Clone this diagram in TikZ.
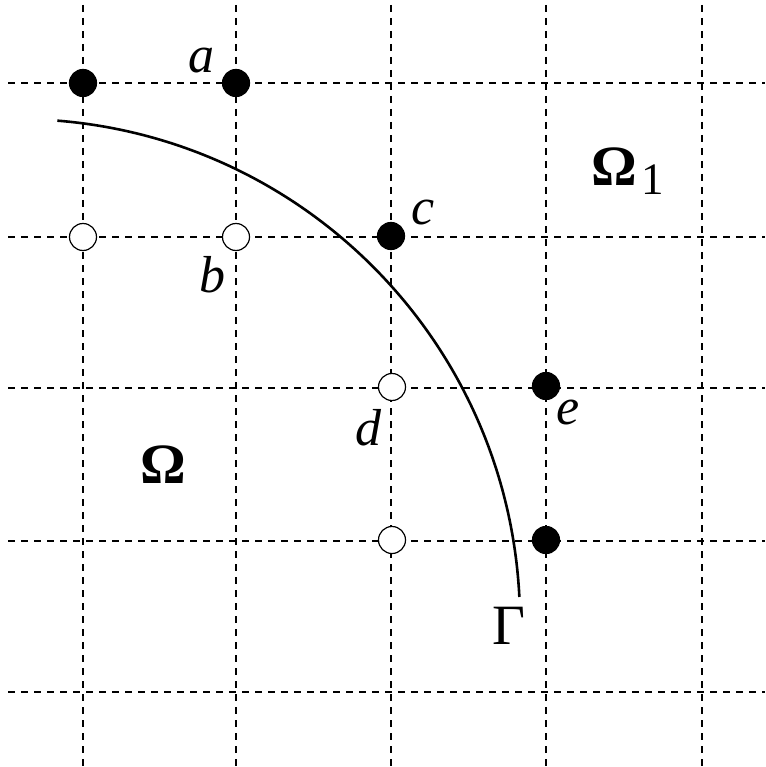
\documentclass[tikz,border=0pt]{standalone}
\usepackage{fontspec}
\setmainfont{Liberation Serif}
\begin{document}
\begin{tikzpicture}[x=1pt,y=-1pt,
  gridline/.style={line width=1.3pt, dash pattern=on 7pt off 6pt},
  fdot/.style={circle, fill=black, draw=black, line width=1.2pt, minimum size=27pt, inner sep=0pt},
  odot/.style={circle, fill=white, draw=black, line width=1.2pt, minimum size=27pt, inner sep=0pt},
  lbl/.style={inner sep=0pt, font=\fontsize{52}{52}\selectfont\itshape},
  big/.style={inner sep=0pt, font=\fontsize{57}{57}\selectfont}]
\useasboundingbox (0,0) rectangle (765,767);
% grid
\foreach \y in {83,237,388,541,692} \draw[gridline] (8,\y) -- (765,\y);
\foreach \x in {83,236,391,546,702} \draw[gridline] (\x,5) -- (\x,767);
% curve Gamma (circular arc)
\coordinate (ctr) at (17,622);
\draw[line width=2.6pt] ([shift={(-85.4:503)}]ctr) arc[start angle=-85.4, end angle=-2.85, radius=503];
% points
\node[fdot] (p1) at (83,83) {};
\node[fdot] (pa) at (236,83) {};
\node[odot] (p3) at (83,237) {};
\node[odot] (pb) at (236,237) {};
\node[fdot] (pc) at (391,236) {};
\node[odot] (pd) at (392,387) {};
\node[fdot] (pe) at (546,386) {};
\node[odot] (p8) at (392,540) {};
\node[fdot] (p9) at (546,540) {};
% labels
\node[lbl] (la) at (201,61) {a};
\node[lbl] (lb) at (212,275) {b};
\node[lbl] (lc) at (423,213) {c};
\node[lbl] (ld) at (368,428) {d};
\node[lbl] (le) at (568,412) {e};
\node[big, font=\fontsize{57}{57}\selectfont\bfseries] (om) at (163,465) {Ω};
\node[big, anchor=base west] (om1) at (591,186) {\textbf{Ω}\kern5pt\raisebox{-9pt}{\fontsize{45}{45}\selectfont 1}};
\node[big] (gam) at (509,626) {Γ};
\end{tikzpicture}
\end{document}
